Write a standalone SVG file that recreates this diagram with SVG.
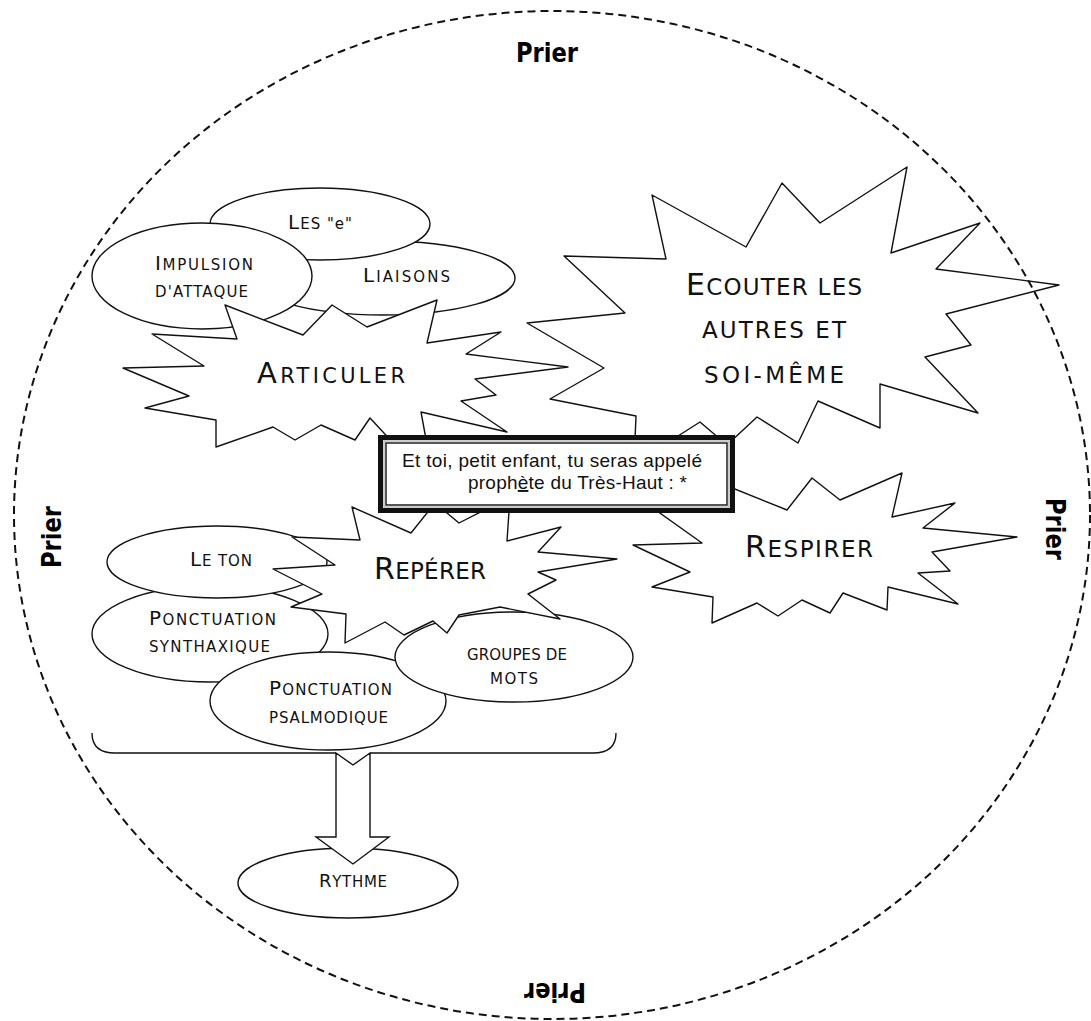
<svg xmlns="http://www.w3.org/2000/svg" width="1091" height="1021" viewBox="0 0 1091 1021">
<style>
.shape{fill:#fff;stroke:#111;stroke-width:1.4}
.star{fill:#fff;stroke:#111;stroke-width:1.4;stroke-linejoin:round}
.t{font-family:"DejaVu Sans","Liberation Sans",sans-serif;fill:#111;font-size:15px}
.b19{font-size:20px}
.s21{font-size:21px}
.b29{font-size:29px}
.s23{font-size:23px}
.b30{font-size:30px}
.s17{font-size:18px}
.prier{font-family:"DejaVu Sans",sans-serif;font-weight:bold;font-size:27px;fill:#000;text-anchor:middle}
.frame{fill:none;stroke:#111;stroke-width:2;stroke-dasharray:8 5}
.quote{font-family:"Liberation Sans",Arial,sans-serif;font-size:19px;fill:#111}
</style>
<rect width="1091" height="1021" fill="#fff"/>

<g id="articuler-group">
  <g id="liaisons">
    <ellipse class="shape" cx="383" cy="278" rx="132" ry="37"/>
    <text class="t" x="363" y="282" textLength="87" lengthAdjust="spacing"><tspan class="b19">L</tspan>IAISONS</text>
  </g>
  <g id="les-e">
    <ellipse class="shape" cx="320" cy="224" rx="110" ry="36"/>
    <text class="t" x="288" y="229" textLength="64" lengthAdjust="spacing"><tspan class="b19">L</tspan>ES "e"</text>
  </g>
  <g id="impulsion">
    <ellipse class="shape" cx="202" cy="276" rx="110" ry="53"/>
    <text class="t" x="155" y="270" textLength="98" lengthAdjust="spacing"><tspan class="b19">I</tspan>MPULSION</text>
    <text class="t" x="155" y="297" textLength="93" lengthAdjust="spacing">D'ATTAQUE</text>
  </g>
  <g id="articuler">
    <polygon class="star" points="225,305 303,335 332,305 367,327 437,300 427,343 501,332 466,354 568,367 475,379 496,395 461,401 507,432 421,412 435,488 370,418 355,440 321,425 295,440 273,427 216,447 216,420 145,408 189,396 123,368 204,366 152,334 237,339"/>
    <text class="t s21" x="257" y="383" textLength="148" lengthAdjust="spacing"><tspan class="b29">A</tspan>RTICULER</text>
  </g>
</g>

<g id="ecouter">
  <polygon class="star" points="652,195 746,247 782,183 820,223 907,167 891,253 980,223 936,269 1059,285 946,314 971,345 925,357 978,413 880,384 880,428 818,401 798,443 757,417 727,445 700,422 634,464 636,416 550,399 604,368 527,323 625,313 564,256 666,259"/>
  <text class="t s23" x="686" y="295" textLength="176" lengthAdjust="spacing"><tspan class="b30">E</tspan>COUTER LES</text>
  <text class="t s23" x="702" y="338" textLength="144" lengthAdjust="spacing">AUTRES ET</text>
  <text class="t s23" x="704" y="383" textLength="140" lengthAdjust="spacing">SOI-MÊME</text>
</g>

<g id="respirer">
  <polygon class="star" points="715,481 787,510 812,478 840,500 902,473 892,517 955,503 923,528 1017,537 932,552 950,571 918,573 958,604 888,587 887,610 843,593 830,613 802,600 778,616 757,603 712,623 713,597 652,587 690,572 633,545 702,543 650,506"/>
  <text class="t s23" x="745" y="557" textLength="128" lengthAdjust="spacing"><tspan class="b30">R</tspan>ESPIRER</text>
</g>

<g id="reperer-group">
  <g id="ponctuation-synthaxique">
    <ellipse class="shape" cx="210" cy="634" rx="118" ry="48"/>
    <text class="t" x="149" y="625" textLength="127" lengthAdjust="spacing"><tspan class="b19">P</tspan>ONCTUATION</text>
    <text class="t" x="149" y="652" textLength="121" lengthAdjust="spacing">SYNTHAXIQUE</text>
  </g>
  <g id="le-ton">
    <ellipse class="shape" cx="217" cy="562" rx="110" ry="36"/>
    <text class="t" x="190" y="566" textLength="62" lengthAdjust="spacing"><tspan class="b19">L</tspan>E TON</text>
  </g>
  <g id="ponctuation-psalmodique">
    <ellipse class="shape" cx="328" cy="701" rx="118" ry="49"/>
    <text class="t" x="269" y="695" textLength="123" lengthAdjust="spacing"><tspan class="b19">P</tspan>ONCTUATION</text>
    <text class="t" x="269" y="723" textLength="119" lengthAdjust="spacing">PSALMODIQUE</text>
  </g>
  <g id="groupes-de-mots">
    <ellipse class="shape" cx="514" cy="657" rx="119" ry="45"/>
    <text class="t" x="467" y="660" textLength="100" lengthAdjust="spacing">GROUPES DE</text>
    <text class="t" x="490" y="684" textLength="48" lengthAdjust="spacing">MOTS</text>
  </g>
  <g id="reperer">
    <polygon class="star" points="352,507 411,533 435,503 459,523 510,497 507,541 561,527 538,552 617,559 538,572 556,580 528,594 560,619 500,607 459,615 447,633 433,621 404,635 385,622 345,643 346,614 291,607 322,594 273,569 335,565 292,537 360,540"/>
    <text class="t s23" x="374" y="579" textLength="112" lengthAdjust="spacing"><tspan class="b30">R</tspan>EPÉRER</text>
  </g>
</g>

<g id="citation">
  <rect x="380.5" y="437.5" width="352" height="73" fill="#fff" stroke="#111" stroke-width="5"/>
  <rect x="384" y="441" width="345" height="66" fill="none" stroke="#999" stroke-width="1"/>
  <rect x="386" y="443" width="341" height="62" fill="none" stroke="#111" stroke-width="1.4"/>
  <text class="quote" x="402" y="467" textLength="300" lengthAdjust="spacing">Et toi, petit enfant, tu seras appelé</text>
  <text class="quote" x="468" y="489" textLength="219" lengthAdjust="spacing">proph<tspan text-decoration="underline">è</tspan>te du Très-Haut : *</text>
</g>

<g id="rythme">
  <ellipse class="shape" cx="348" cy="883" rx="110" ry="35"/>
  <text class="t" x="319" y="887" textLength="68" lengthAdjust="spacing"><tspan class="s17">R</tspan>YTHME</text>
</g>

<g id="connectors">
  <path d="M92,733 C92,747 100,753 115,753 L336,753 M370,753 L593,753 C608,753 616,747 616,733" fill="none" stroke="#111" stroke-width="1.4"/>
  <polygon class="shape" points="336,753 353,765 370,753 370,837 389,837 353,864 316,837 336,837"/>
</g>

<g id="prier-frame">
  <ellipse class="frame" cx="552" cy="515" rx="538" ry="504"/>
  <text class="prier" x="547" y="62" textLength="62" lengthAdjust="spacingAndGlyphs">Prier</text>
  <text class="prier" transform="translate(61,537) rotate(-90)" x="0" y="0" textLength="62" lengthAdjust="spacingAndGlyphs">Prier</text>
  <text class="prier" transform="translate(1046,529) rotate(90)" x="0" y="0" textLength="62" lengthAdjust="spacingAndGlyphs">Prier</text>
  <text class="prier" transform="translate(555,983) rotate(180)" x="0" y="0" textLength="62" lengthAdjust="spacingAndGlyphs">Prier</text>
</g>
</svg>
